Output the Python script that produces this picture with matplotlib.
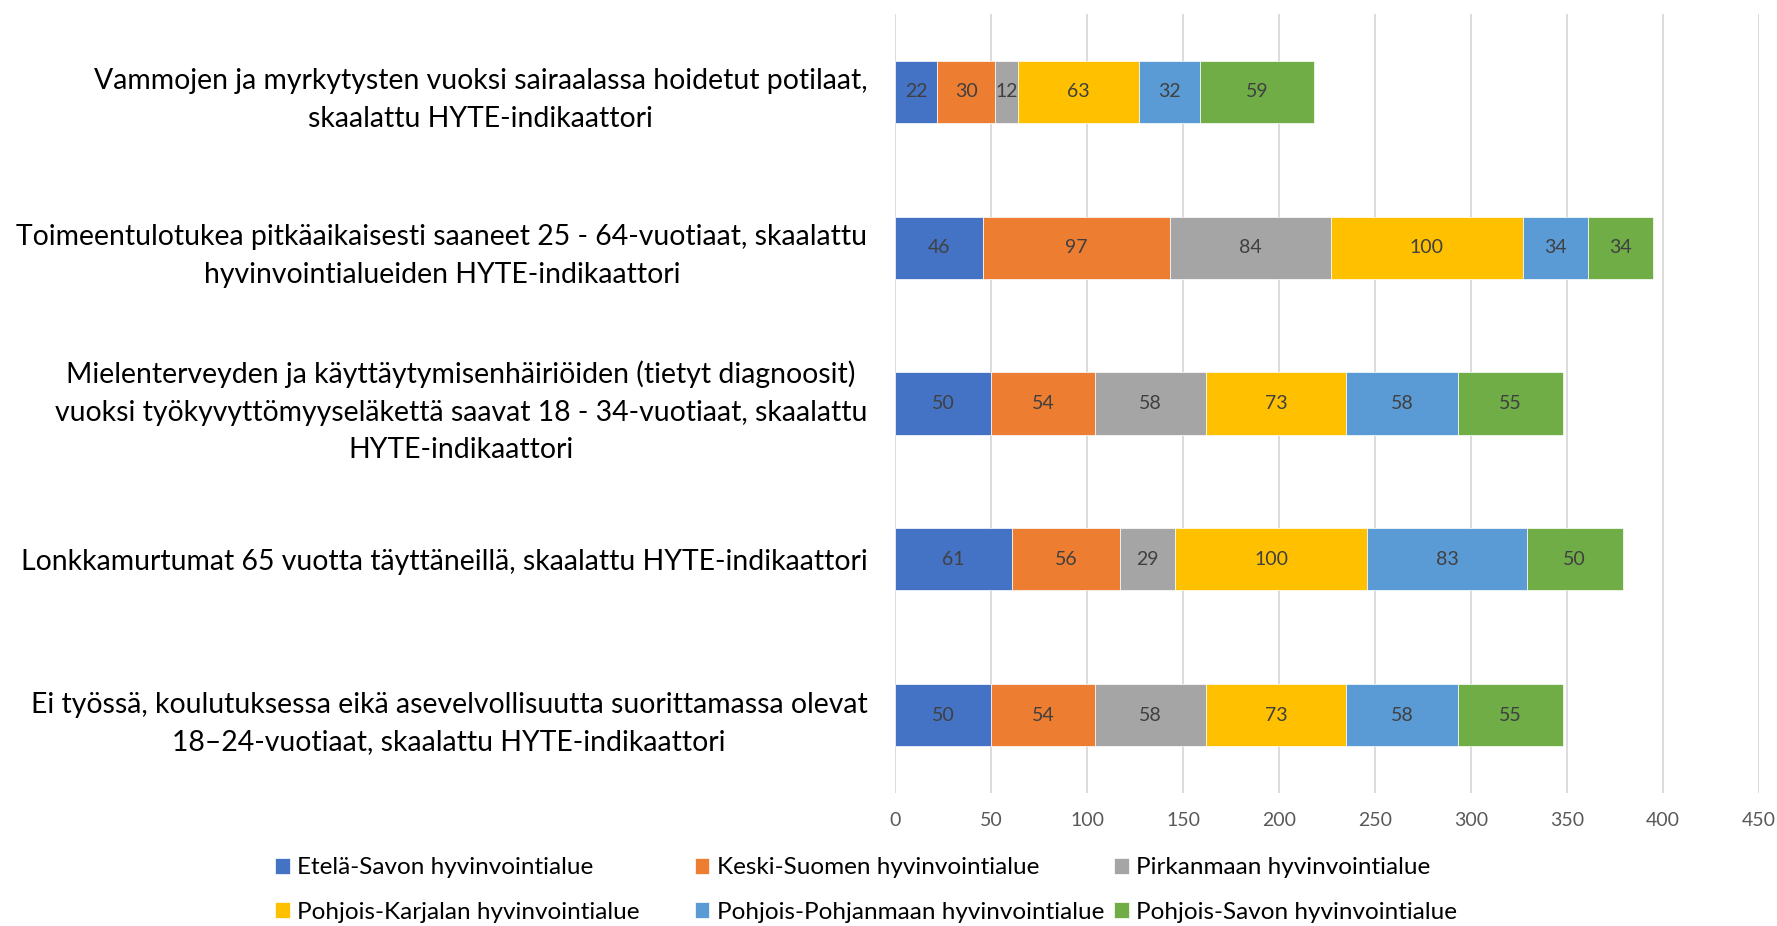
import numpy as np
import matplotlib
matplotlib.use('Agg')
import matplotlib.pyplot as plt

plt.rcParams['font.family'] = ['Lato', 'DejaVu Sans']

# Data
categories = [
    'Vammojen ja myrkytysten vuoksi sairaalassa hoidetut potilaat,\nskaalattu HYTE-indikaattori',
    'Toimeentulotukea pitkäaikaisesti saaneet 25 - 64-vuotiaat, skaalattu\nhyvinvointialueiden HYTE-indikaattori',
    'Mielenterveyden ja käyttäytymisenhäiriöiden (tietyt diagnoosit)\nvuoksi työkyvyttömyyseläkettä saavat 18 - 34-vuotiaat, skaalattu\nHYTE-indikaattori',
    'Lonkkamurtumat 65 vuotta täyttäneillä, skaalattu HYTE-indikaattori',
    'Ei työssä, koulutuksessa eikä asevelvollisuutta suorittamassa olevat\n18–24-vuotiaat, skaalattu HYTE-indikaattori',
]
regions = [
    'Etelä-Savon hyvinvointialue',
    'Keski-Suomen hyvinvointialue',
    'Pirkanmaan hyvinvointialue',
    'Pohjois-Karjalan hyvinvointialue',
    'Pohjois-Pohjanmaan hyvinvointialue',
    'Pohjois-Savon hyvinvointialue',
]
etela_savo = [22, 46, 50, 61, 50]
keski_suomi = [30, 97, 54, 56, 54]
pirkanmaa = [12, 84, 58, 29, 58]
pohjois_karjala = [63, 100, 73, 100, 73]
pohjois_pohjanmaa = [32, 34, 58, 83, 58]
pohjois_savo = [59, 34, 55, 50, 55]
series = [etela_savo, keski_suomi, pirkanmaa, pohjois_karjala, pohjois_pohjanmaa, pohjois_savo]
colors = ['#4472C4', '#ED7D31', '#A5A5A5', '#FFC000', '#5B9BD5', '#70AD47']
xticks = [0, 50, 100, 150, 200, 250, 300, 350, 400, 450]

fig = plt.figure(figsize=(17.77, 9.26), dpi=100)
ax = fig.add_axes([0.5037, 0.1436, 0.4862, 0.8413])

y = np.arange(len(categories))
left = np.zeros(len(categories))
handles = []
for vals, col, name in zip(series, colors, regions):
    bars = ax.barh(y, vals, left=left, height=0.4, color=col, label=name, zorder=2,
                   edgecolor='white', linewidth=0.5)
    ax.bar_label(bars, labels=[str(v) for v in vals], label_type='center',
                 color='#404040', fontsize=14)
    handles.append(bars)
    left += np.array(vals)

ax.set_ylim(-0.5, len(categories) - 0.5)
ax.invert_yaxis()
ax.set_xlim(0, 450)
ax.set_xticks(xticks)
ax.set_xticklabels([str(t) for t in xticks], color='#595959', fontsize=14)
ax.set_yticks(y)
ax.set_yticklabels(categories, fontsize=20.4, color='black', ma='center',
                   linespacing=1.55)
ax.tick_params(axis='both', length=0)
ax.tick_params(axis='y', pad=20)
ax.tick_params(axis='x', pad=14)
ax.grid(axis='x', color='#D9D9D9', linewidth=1.3, zorder=0)
for s in ax.spines.values():
    s.set_visible(False)

# legend: three columns, two rows, evenly spaced like the original
col_x = [0.155, 0.391, 0.627]
for c, x in enumerate(col_x):
    idx = [c, c + 3]
    fig.legend([handles[i] for i in idx], [regions[i] for i in idx],
               loc='upper left', bbox_to_anchor=(x, 0.074), ncol=1, frameon=False,
               fontsize=17.5, handlelength=0.6, handleheight=0.6, handletextpad=0.3,
               labelspacing=0.95, borderaxespad=0, borderpad=0)

fig.savefig('out.png', dpi=100)
